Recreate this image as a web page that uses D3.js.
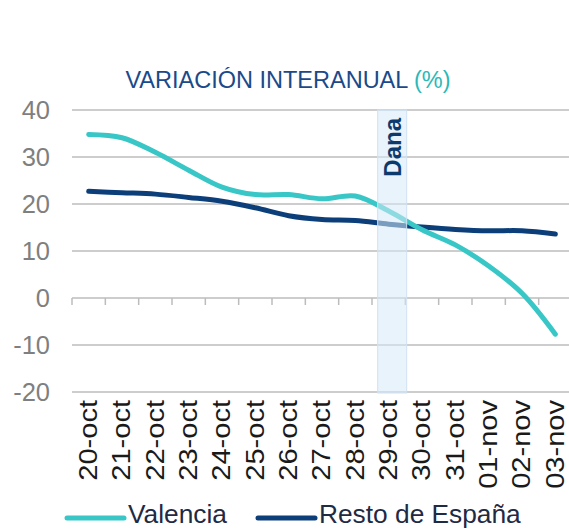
<!DOCTYPE html>
<html>
<head>
<meta charset="utf-8">
<script src="https://cdn.jsdelivr.net/npm/d3@7"></script>
<style>
  body { margin: 0; background: #fff; }
  text { font-family: "Liberation Sans", Arial, sans-serif; }
</style>
</head>
<body>
<svg id="chart" width="569" height="529"></svg>
<script>
// variación interanual, Valencia vs resto de España

const dias = ["20-oct","21-oct","22-oct","23-oct","24-oct","25-oct","26-oct","27-oct","28-oct","29-oct","30-oct","31-oct","01-nov","02-nov","03-nov"];
const valencia = [34.8, 34.1, 31.0, 27.2, 23.6, 22.0, 22.0, 21.1, 21.7, 18.5, 14.5, 11.3, 6.8, 1.0, -7.7];
const restoEspana = [22.7, 22.4, 22.1, 21.4, 20.6, 19.2, 17.5, 16.7, 16.5, 15.7, 15.1, 14.6, 14.3, 14.3, 13.6];
const yTicks = [40, 30, 20, 10, 0, -10, -20];
const evento = { dia: "29-oct", label: "Dana" };

const colValencia = "#38c7c6";
const colResto = "#0c3f7a";

const svg = d3.select("#chart");

const x = d3.scaleBand().domain(dias).range([72, 572]);
const y = d3.scaleLinear().domain([-20, 40]).range([392, 110]);
const cx = d => x(d) + x.bandwidth() / 2;

// título
const title = svg.append("text")
  .attr("x", 288).attr("y", 88)
  .attr("text-anchor", "middle")
  .style("font-size", "23.5px")
  .attr("fill", "#1a4a8a");
title.append("tspan").text("VARIACIÓN INTERANUAL ");
title.append("tspan").attr("fill", "#2bb8b6").text("(%)");

// rejilla
svg.append("g").selectAll("line")
  .data(yTicks.filter(t => t !== 0))
  .join("line")
  .attr("x1", 72).attr("x2", 572)
  .attr("y1", d => y(d)).attr("y2", d => y(d))
  .attr("stroke", "#bcbcbc").attr("stroke-width", 1.5);

// etiquetas eje y
svg.append("g").selectAll("text")
  .data(yTicks)
  .join("text")
  .attr("x", 50).attr("y", d => y(d))
  .attr("dy", "0.35em")
  .attr("text-anchor", "end")
  .style("font-size", "25.5px")
  .attr("fill", "#7f7f7f")
  .text(d => d);

// eje cero con marcas
const gx = svg.append("g")
  .attr("transform", `translate(0,${y(0)})`);
gx.append("line").attr("x1", 72).attr("x2", 572)
  .attr("stroke", "#bcbcbc").attr("stroke-width", 1.5);
gx.selectAll(".bound")
  .data(dias)
  .join("line")
  .attr("x1", d => x(d)).attr("x2", d => x(d))
  .attr("y1", 0).attr("y2", 7)
  .attr("stroke", "#bcbcbc").attr("stroke-width", 1.5);

// líneas
const linea = d3.line()
  .x((d, i) => cx(dias[i]))
  .y(d => y(d))
  .curve(d3.curveCatmullRom.alpha(0.5));

svg.append("path")
  .attr("d", linea(restoEspana))
  .attr("fill", "none").attr("stroke", colResto)
  .attr("stroke-width", 5).attr("stroke-linecap", "round").attr("stroke-linejoin", "round");

svg.append("path")
  .attr("d", linea(valencia))
  .attr("fill", "none").attr("stroke", colValencia)
  .attr("stroke-width", 5).attr("stroke-linecap", "round").attr("stroke-linejoin", "round");

// banda Dana
const bx = cx(evento.dia) - 11;
svg.append("rect")
  .attr("x", bx).attr("y", y(40))
  .attr("width", 29).attr("height", y(-20) - y(40) + 1)
  .attr("fill", "#d6e9f8").attr("fill-opacity", 0.55)
  .attr("stroke", "#cfe2f3").attr("stroke-width", 1);

svg.append("text")
  .attr("transform", `translate(${bx + 14.5},${y(40) + 8}) rotate(-90)`)
  .attr("dy", "0.36em")
  .attr("text-anchor", "end")
  .style("font-size", "24px").style("font-weight", "bold")
  .attr("fill", "#0c3a6c")
  .text(evento.label);

// etiquetas eje x (algo estiradas a lo largo, como en el original)
svg.append("g").selectAll("text")
  .data(dias)
  .join("text")
  .attr("transform", d => `translate(${cx(d) - 1},400) rotate(-90) scale(1.14,1)`)
  .attr("dy", "0.36em")
  .attr("text-anchor", "end")
  .style("font-size", "25.5px")
  .attr("fill", "#1a1a1a")
  .text(d => d);

// leyenda
const leyenda = [
  { label: "Valencia", color: colValencia, x: 67 },
  { label: "Resto de España", color: colResto, x: 258 }
];
const lg = svg.append("g").selectAll("g")
  .data(leyenda)
  .join("g")
  .attr("transform", d => `translate(${d.x},518)`);
lg.append("line")
  .attr("x1", 0).attr("x2", 57)
  .attr("stroke", d => d.color).attr("stroke-width", 5)
  .attr("stroke-linecap", "round");
lg.append("text")
  .attr("x", 61).attr("y", 4.5)
  .style("font-size", "26.3px")
  .attr("fill", "#1f2a44")
  .text(d => d.label);
</script>
</body>
</html>
